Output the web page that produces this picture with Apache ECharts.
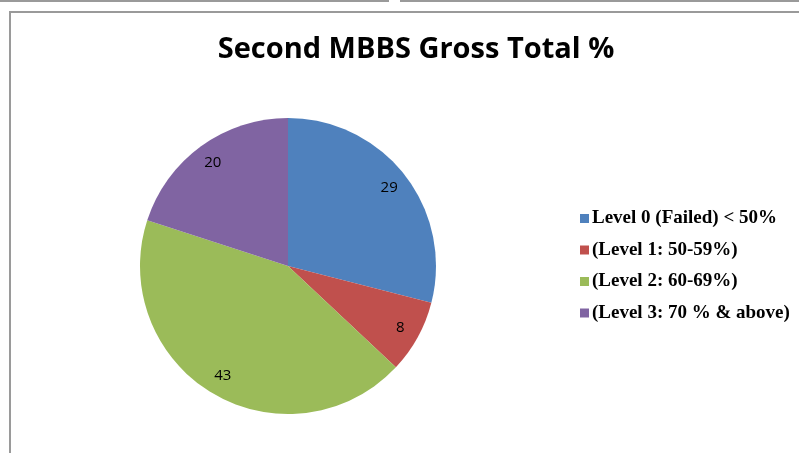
<!DOCTYPE html>
<html>
<head>
<meta charset="utf-8">
<script src="https://cdn.jsdelivr.net/npm/echarts@6/dist/echarts.min.js"></script>
<style>html,body{margin:0;padding:0;background:#fff}#c{width:799px;height:453px}</style>
</head>
<body>
<div id="c"></div>
<script>
const categories = ['Level 0 (Failed) < 50%', '(Level 1: 50-59%)', '(Level 2: 60-69%)', '(Level 3: 70 % & above)'];
const values = [29, 8, 43, 20];
const colors = ['#4F81BD', '#C0504D', '#9BBB59', '#8064A2'];

const data = categories.map((n, i) => ({ name: n, value: values[i], itemStyle: { color: colors[i] } }));
const chart = echarts.init(document.getElementById('c'), null, { renderer: 'canvas' });
chart.setOption({
  animation: false,
  backgroundColor: '#fff',
  title: {
    text: 'Second MBBS Gross Total %',
    left: 411, top: 30, textAlign: 'center',
    textStyle: { fontFamily: 'Open Sans', fontWeight: 'bold', fontSize: 29, color: '#000' }
  },
  legend: {
    orient: 'vertical', left: 575, top: 204,
    icon: 'rect', itemWidth: 9, itemHeight: 9, itemGap: 12.5,
    data: categories,
    textStyle: { fontFamily: 'Liberation Serif', fontWeight: 'bold', fontSize: 19, color: '#000', padding: [0, 0, 0, -2] }
  },
  graphic: [
    { type: 'line', shape: { x1: 0, y1: 1, x2: 389, y2: 1 }, style: { stroke: '#9a9a9a', lineWidth: 2 } },
    { type: 'line', shape: { x1: 400, y1: 1, x2: 799, y2: 1 }, style: { stroke: '#9a9a9a', lineWidth: 2 } },
    { type: 'polyline', shape: { points: [[10, 453], [10, 12], [799, 12]] }, style: { stroke: '#9a9a9a', lineWidth: 2, fill: null } }
  ],
  series: [
    {
      type: 'pie', center: [288, 266], radius: [0, 148], startAngle: 90, clockwise: true,
      data: data, label: { show: false }, labelLine: { show: false },
      itemStyle: { borderWidth: 0 }, silent: true
    },
    {
      type: 'pie', center: [288, 266], radius: [102, 148], startAngle: 90, clockwise: true,
      data: categories.map((n, i) => ({ name: n, value: values[i] })),
      itemStyle: { color: 'rgba(0,0,0,0)', borderWidth: 0 },
      label: { show: true, position: 'inside', formatter: '{c}', fontFamily: 'Open Sans', fontSize: 15, color: '#000' },
      labelLine: { show: false }, silent: true
    }
  ]
});
</script>
</body>
</html>
